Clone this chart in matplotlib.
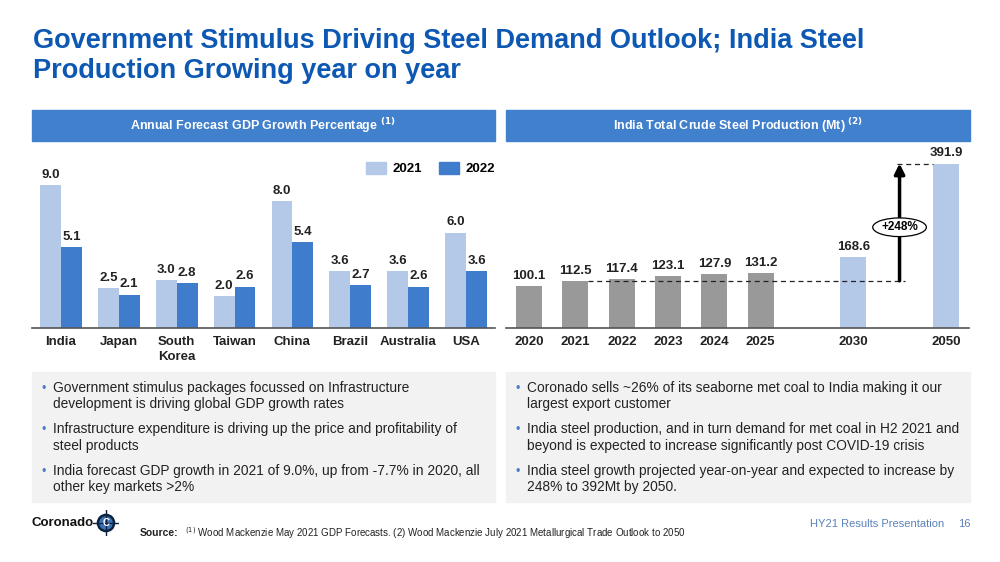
import matplotlib.pyplot as plt
from matplotlib.patches import Rectangle, Circle, Patch

plt.rcParams['font.family'] = ['Liberation Sans', 'DejaVu Sans']

# data
countries = ['India', 'Japan', 'South\nKorea', 'Taiwan', 'China', 'Brazil', 'Australia', 'USA']
gdp_2021 = [9.0, 2.5, 3.0, 2.0, 8.0, 3.6, 3.6, 6.0]
gdp_2022 = [5.1, 2.1, 2.8, 2.6, 5.4, 2.7, 2.6, 3.6]

steel_years = ['2020', '2021', '2022', '2023', '2024', '2025', '2030', '2050']
steel_pos = [0, 1, 2, 3, 4, 5, 7, 9]
steel_mt = [100.1, 112.5, 117.4, 123.1, 127.9, 131.2, 168.6, 391.9]

left_bullets = [
    "Government stimulus packages focussed on Infrastructure\ndevelopment is driving global GDP growth rates",
    "Infrastructure expenditure is driving up the price and profitability of\nsteel products",
    "India forecast GDP growth in 2021 of 9.0%, up from -7.7% in 2020, all\nother key markets >2%",
]
right_bullets = [
    "Coronado sells ~26% of its seaborne met coal to India making it our\nlargest export customer",
    "India steel production, and in turn demand for met coal in H2 2021 and\nbeyond is expected to increase significantly post COVID-19 crisis",
    "India steel growth projected year-on-year and expected to increase by\n248% to 392Mt by 2050.",
]

TITLE_BLUE = '#0D58B2'
BANNER = '#4080CC'
LIGHT = '#B4C8E8'
DARK = '#3F7CCB'
GREY = '#999999'

W, H = 1000, 562
fig = plt.figure(figsize=(10, 5.62), dpi=100)


def fx(x):
    return x / W


def fy(y):
    return 1 - y / H


def box(x0, y0, x1, y1, color):
    fig.patches.append(Rectangle((fx(x0), fy(y1)), fx(x1 - x0), (y1 - y0) / H,
                                 transform=fig.transFigure, color=color, zorder=0))


# title
fig.text(fx(33), fy(41), "Government Stimulus Driving Steel Demand Outlook; India Steel",
         color=TITLE_BLUE, fontsize=19.5, fontweight='bold', va='center')
fig.text(fx(33), fy(71), "Production Growing year on year",
         color=TITLE_BLUE, fontsize=19.5, fontweight='bold', va='center')

# banners
box(32, 110, 495, 141, BANNER)
box(506, 110, 970, 141, BANNER)
fig.text(fx(263), fy(126), r"Annual Forecast GDP Growth Percentage $^{\mathbf{(1)}}$", color='white',
         fontsize=9, fontweight='bold', ha='center', va='center')
fig.text(fx(738), fy(126), r"India Total Crude Steel Production (Mt) $^{\mathbf{(2)}}$", color='white',
         fontsize=9, fontweight='bold', ha='center', va='center')

# left chart
ax1 = fig.add_axes([fx(32), fy(328), fx(495 - 32), (328 - 145) / H])
x = range(len(countries))
w = 0.36
b1 = ax1.bar([i - w / 2 for i in x], gdp_2021, w, color=LIGHT, label='2021')
b2 = ax1.bar([i + w / 2 for i in x], gdp_2022, w, color=DARK, label='2022')
for bars, vals in ((b1, gdp_2021), (b2, gdp_2022)):
    ax1.bar_label(bars, labels=[f"{v:.1f}" for v in vals], padding=3,
                  fontsize=9.5, fontweight='bold', color='#222222')
ax1.set_xlim(-0.5, len(countries) - 0.5)
ax1.set_ylim(0, 11.5)
ax1.set_xticks(list(x))
ax1.set_xticklabels(countries, fontsize=9.5, fontweight='bold', color='#222222', linespacing=1.3)
ax1.tick_params(axis='x', length=0, pad=6)
ax1.set_yticks([])
for s in ('top', 'right', 'left'):
    ax1.spines[s].set_visible(False)
ax1.spines['bottom'].set_color('#555555')
ax1.spines['bottom'].set_linewidth(1.2)
ax1.patch.set_alpha(0)

fig.legend(handles=[Patch(color=LIGHT, label='2021'), Patch(color=DARK, label='2022')],
           loc='upper left', bbox_to_anchor=(fx(354), fy(150)), ncol=2, frameon=False,
           prop={'size': 9.5, 'weight': 'bold'}, handlelength=1.5, handleheight=1.0,
           columnspacing=1.3, handletextpad=0.5)

# right chart
ax2 = fig.add_axes([fx(506), fy(328), fx(969 - 506), (328 - 145) / H])
bw = 0.56
colors = [GREY] * 6 + [LIGHT] * 2
bars = ax2.bar(steel_pos, steel_mt, bw, color=colors)
ax2.bar_label(bars, labels=[f"{v:.1f}" for v in steel_mt], padding=3,
              fontsize=9.5, fontweight='bold', color='#222222')
ax2.set_xlim(-0.5, 9.5)
ax2.set_ylim(0, 436)
ax2.set_xticks(steel_pos)
ax2.set_xticklabels(steel_years, fontsize=9.5, fontweight='bold', color='#222222')
ax2.tick_params(axis='x', length=0, pad=6)
ax2.set_yticks([])
for s in ('top', 'right', 'left'):
    ax2.spines[s].set_visible(False)
ax2.spines['bottom'].set_color('#555555')
ax2.spines['bottom'].set_linewidth(1.2)
ax2.patch.set_alpha(0)

base = steel_mt[1]
top = steel_mt[-1]
ax2.plot([steel_pos[1] + bw / 2, 8.12], [base, base], color='#222222', lw=0.9, ls=(0, (4, 3)))
ax2.plot([7.95, steel_pos[-1] - bw / 2], [top, top], color='#222222', lw=0.9, ls=(0, (4, 3)))
ax2.annotate('', xy=(8.0, top), xytext=(8.0, base),
             arrowprops=dict(arrowstyle='-|>,head_width=0.3,head_length=0.6', color='black', lw=2.5,
                             shrinkA=0, shrinkB=0))
ax2.text(8.0, 240, '+248%', ha='center', va='center', fontsize=8.5, fontweight='bold',
         bbox=dict(boxstyle='ellipse,pad=0.05', fc='white', ec='black', lw=0.9))

# bullet boxes
box(32, 372, 495, 502, '#F2F2F2')
box(506, 372, 970, 502, '#F2F2F2')
for bx, items in ((42, left_bullets), (516, right_bullets)):
    y = 389
    for item in items:
        fig.text(fx(bx), fy(y), '•', color='#4A7FC8', fontsize=9, va='center')
        fig.text(fx(bx + 11), fy(y - 8), item, fontsize=9.9, color='#222222', va='top',
                 linespacing=1.2)
        y += 41.5

# footer / logo
fig.text(fx(32), fy(523), 'Coronado', fontsize=9.5, fontweight='bold', color='#111111', va='center')
lax = fig.add_axes([fx(93), fy(536), fx(26), 26 / H])
lax.set_xlim(-1, 1)
lax.set_ylim(-1, 1)
lax.set_aspect('equal')
lax.axis('off')
lax.plot([0, 0], [-1, 1], color='#0D2240', lw=1)
lax.plot([-1, 1], [0, 0], color='#0D2240', lw=1)
lax.add_patch(Circle((0, 0), 0.62, fc='#3C73B8', ec='#0D2240', lw=1.8))
lax.text(0, -0.02, 'C', ha='center', va='center', fontsize=7, fontweight='bold', color='white')

fig.text(fx(140), fy(533), 'Source:', fontsize=7.5, fontweight='bold', color='#222222', va='center')
fig.text(fx(185), fy(533),
         r"$^{(1)}$ Wood Mackenzie May 2021 GDP Forecasts. (2) Wood Mackenzie July 2021 Metallurgical Trade Outlook to 2050",
         fontsize=7, color='#222222', va='center')
fig.text(fx(810), fy(524), 'HY21 Results Presentation', fontsize=8, color='#5B82B8', va='center')
fig.text(fx(958), fy(524), '16', fontsize=8, color='#5B82B8', va='center')

fig.savefig('out.png', dpi=100)
